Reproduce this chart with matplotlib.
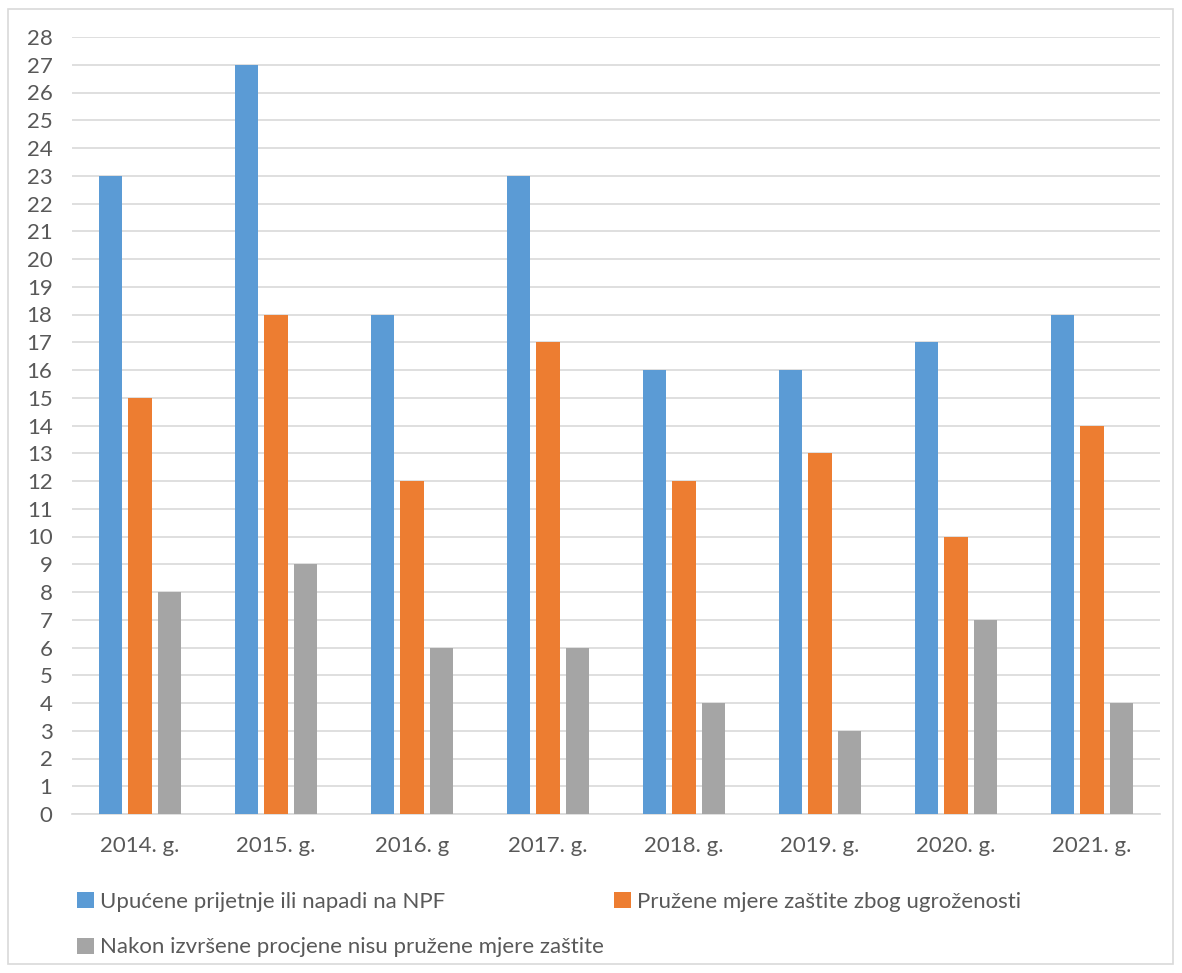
import numpy as np
import matplotlib
matplotlib.use("Agg")
import matplotlib.pyplot as plt
from matplotlib.patches import Rectangle

years = ["2014. g.", "2015. g.", "2016. g", "2017. g.", "2018. g.", "2019. g.", "2020. g.", "2021. g."]
upucene = [23, 27, 18, 23, 16, 16, 17, 18]
pruzene = [15, 18, 12, 17, 12, 13, 10, 14]
nisu_pruzene = [8, 9, 6, 6, 4, 3, 7, 4]

labels = ["Upućene prijetnje ili napadi na NPF",
          "Pružene mjere zaštite zbog ugroženosti",
          "Nakon izvršene procjene nisu pružene mjere zaštite"]
colors = ["#5B9BD5", "#ED7D31", "#A5A5A5"]

plt.rcParams["font.family"] = ["Lato", "DejaVu Sans"]
text_color = "#595959"

fig = plt.figure(figsize=(11.82, 9.73), dpi=100)
ax = fig.add_axes([72 / 1182, 1 - 814 / 973, (1160 - 72) / 1182, (814 - 37) / 973])

x = np.arange(len(years))
width = 0.17
offset = 0.22
bars = []
for i, vals in enumerate([upucene, pruzene, nisu_pruzene]):
    b = ax.bar(x + (i - 1) * offset, vals, width, color=colors[i], label=labels[i], zorder=3)
    bars.append(b)

ax.set_xlim(-0.5, len(years) - 0.5)
ax.set_ylim(0, 28)
ax.set_yticks(range(0, 29))
ax.set_xticks(x)
ax.set_xticklabels(years)
ax.grid(axis="y", color="#D9D9D9", linewidth=1.2, zorder=0)
for s in ["top", "right", "left"]:
    ax.spines[s].set_visible(False)
ax.spines["bottom"].set_color("#D9D9D9")
ax.spines["bottom"].set_linewidth(1.2)
ax.tick_params(axis="both", length=0, colors=text_color, labelsize=16)
ax.tick_params(axis="x", pad=16)
ax.tick_params(axis="y", pad=14)

# legend order so that rows read: blue, orange / gray
handles = [bars[0], bars[2], bars[1]]
hl = [labels[0], labels[2], labels[1]]
fig.legend(handles, hl, ncol=2, loc="upper left", bbox_to_anchor=(68 / 1182, 1 - 883 / 973),
           frameon=False, fontsize=16, labelcolor=text_color, handlelength=0.75, handleheight=0.75,
           handletextpad=0.3, columnspacing=0.45, labelspacing=1.15, borderaxespad=0)

fig.patches.append(Rectangle((8 / 1182, 1 - 964 / 973), 1165 / 1182, 955 / 973,
                             transform=fig.transFigure, fill=False, edgecolor="#D9D9D9", linewidth=1.2))

fig.savefig("out.png", dpi=100)
